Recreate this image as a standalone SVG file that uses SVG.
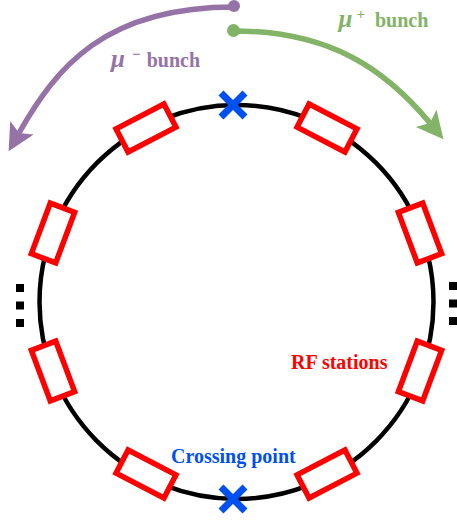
<svg xmlns="http://www.w3.org/2000/svg" width="457" height="523" viewBox="0 0 457 523">
<style>
.rf{fill:#ffffff;stroke:#ff0000;stroke-width:5.5}
.x{stroke:#0050ef;stroke-width:7;stroke-linecap:butt}
.lbl{font-family:"Liberation Serif","Times New Roman",serif;font-weight:bold;font-size:20px}
.dot{fill:#000000}
</style>
<defs>
<marker id="ahP" markerUnits="userSpaceOnUse" markerWidth="30" markerHeight="30" refX="6" refY="13.5" orient="auto">
<path d="M0,0 L27,13.5 L0,27 L6,13.5 Z" fill="#9673a6"/>
</marker>
<marker id="ahG" markerUnits="userSpaceOnUse" markerWidth="30" markerHeight="30" refX="6" refY="13.5" orient="auto">
<path d="M0,0 L27,13.5 L0,27 L6,13.5 Z" fill="#82b366"/>
</marker>
</defs>
<rect width="457" height="523" fill="#ffffff"/>
<g id="ring">
<circle cx="236.5" cy="302" r="197" fill="none" stroke="#000000" stroke-width="4.5"/>
</g>
<g id="connectors">
<path d="M234,7 C104,7 56,68 19,133" fill="none" stroke="#9673a6" stroke-width="5.5" marker-end="url(#ahP)"/>
<circle cx="234" cy="6" r="6" fill="#9673a6"/>
<path d="M234,31 C330,31 385,69 430,123" fill="none" stroke="#82b366" stroke-width="5.5" marker-end="url(#ahG)"/>
<circle cx="233.5" cy="30.5" r="6.5" fill="#82b366"/>
</g>
<g id="rf-stations">
<rect class="rf" x="-27" y="-13" width="54" height="26" transform="translate(146,128) rotate(-27.5)"/>
<rect class="rf" x="-27" y="-13" width="54" height="26" transform="translate(327,128) rotate(27.5)"/>
<rect class="rf" x="-27" y="-13" width="54" height="26" transform="translate(53,233) rotate(-69.5)"/>
<rect class="rf" x="-27" y="-13" width="54" height="26" transform="translate(420,233) rotate(69.5)"/>
<rect class="rf" x="-27" y="-13" width="54" height="26" transform="translate(53,371) rotate(69.5)"/>
<rect class="rf" x="-27" y="-13" width="54" height="26" transform="translate(420,371) rotate(-69.5)"/>
<rect class="rf" x="-27" y="-13" width="54" height="26" transform="translate(146,474) rotate(27.5)"/>
<rect class="rf" x="-27" y="-13" width="54" height="26" transform="translate(327,474) rotate(-27.5)"/>
</g>
<g id="crossing-top">
<path class="x" d="M221,93 L245,117 M245,93 L221,117"/>
</g>
<g id="crossing-bottom">
<path class="x" d="M221,487 L245,511 M245,487 L221,511"/>
</g>
<g id="ellipsis-left">
<rect class="dot" x="16" y="284" width="8" height="8"/>
<rect class="dot" x="16" y="301.5" width="8" height="8"/>
<rect class="dot" x="16" y="319" width="8" height="8"/>
</g>
<g id="ellipsis-right">
<rect class="dot" x="449" y="282" width="8" height="8"/>
<rect class="dot" x="449" y="299.5" width="8" height="8"/>
<rect class="dot" x="449" y="317" width="8" height="8"/>
</g>
<g id="label-mu-minus">
<text class="lbl" fill="#9673a6"><tspan x="111" y="67" font-style="italic" font-size="25">μ</tspan><tspan x="132" y="58.5" font-size="15">−</tspan><tspan x="146.7" y="67">bunch</tspan></text>
</g>
<g id="label-mu-plus">
<text class="lbl" fill="#82b366"><tspan x="338.5" y="26.7" font-style="italic" font-size="25">μ</tspan><tspan x="356.5" y="19" font-size="15">+</tspan><tspan x="375" y="26.7">bunch</tspan></text>
</g>
<g id="label-rf">
<text class="lbl" fill="#ff0000" x="291" y="369">RF stations</text>
</g>
<g id="label-crossing">
<text class="lbl" fill="#0050ef" x="171" y="463">Crossing point</text>
</g>
</svg>
